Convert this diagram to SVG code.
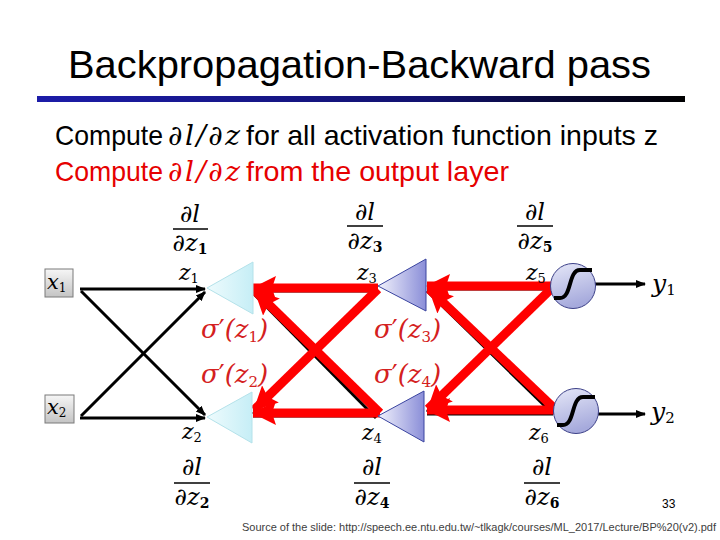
<svg xmlns="http://www.w3.org/2000/svg" width="720" height="540" viewBox="0 0 720 540">
<defs>
<linearGradient id="bar" x1="0" y1="0" x2="1" y2="0"><stop offset="0" stop-color="#1c1ca8"/><stop offset="0.6" stop-color="#121270"/><stop offset="1" stop-color="#000000"/></linearGradient>
<linearGradient id="box" x1="0" y1="0" x2="0" y2="1"><stop offset="0" stop-color="#f6f6f6"/><stop offset="1" stop-color="#c4c4c4"/></linearGradient>
<linearGradient id="cyan" x1="0" y1="0" x2="1" y2="0"><stop offset="0" stop-color="#eefbfd"/><stop offset="1" stop-color="#c6eef6"/></linearGradient>
<linearGradient id="lav" x1="0" y1="0" x2="1" y2="0"><stop offset="0" stop-color="#f2f2fc"/><stop offset="1" stop-color="#8a8ed8"/></linearGradient>
<linearGradient id="circ" x1="0" y1="0" x2="0.3" y2="1"><stop offset="0" stop-color="#e6e8f8"/><stop offset="1" stop-color="#a6aadc"/></linearGradient>
<marker id="ab" viewBox="0 0 10 10" refX="9" refY="5" markerWidth="10" markerHeight="10" markerUnits="userSpaceOnUse" orient="auto"><path d="M0,1 L10,5 L0,9 z" fill="#000"/></marker>
<marker id="ar" viewBox="0 0 24 24" refX="23" refY="12" markerWidth="24" markerHeight="24" markerUnits="userSpaceOnUse" orient="auto"><path d="M0,0 L24,12 L0,24 L4,12 z" fill="#ff0000"/></marker>
<style>
.t{font-family:"Liberation Sans",Arial,sans-serif;}
.m{font-family:"DejaVu Serif","Liberation Serif",serif;font-style:italic;}
.n{font-style:normal;}
.blk{stroke:#000;stroke-width:3;fill:none;marker-end:url(#ab);}
.bu{stroke:#000;stroke-width:3;fill:none;}
.red{stroke:#ff0000;stroke-width:9;fill:none;marker-end:url(#ar);}
.fb{stroke:#000;stroke-width:1.3;}
.sig{fill:#d42020;}
</style>
</defs>
<rect width="720" height="540" fill="#fff"/>
<text class="t" x="68" y="78" font-size="39" textLength="583" lengthAdjust="spacingAndGlyphs">Backpropagation-Backward pass</text>
<rect x="37" y="96" width="648" height="6" fill="url(#bar)"/>
<text class="t" x="55" y="145" font-size="28" textLength="108" lengthAdjust="spacingAndGlyphs">Compute</text>
<text class="m" x="168" y="145" font-size="28" textLength="72">∂l/∂z</text>
<text class="t" x="246" y="145" font-size="28" textLength="412" lengthAdjust="spacingAndGlyphs">for all activation function inputs z</text>
<g fill="#e60000">
<text class="t" x="55" y="181" font-size="28" textLength="108" lengthAdjust="spacingAndGlyphs">Compute</text>
<text class="m" x="168" y="181" font-size="28" textLength="72">∂l/∂z</text>
<text class="t" x="246" y="181" font-size="28" textLength="263" lengthAdjust="spacingAndGlyphs">from the output layer</text>
</g>
<g id="connectors">
<line class="blk" x1="80" y1="289" x2="205" y2="289"/>
<line class="blk" x1="81" y1="291" x2="205" y2="415"/>
<line class="blk" x1="80" y1="418" x2="205" y2="418"/>
<line class="blk" x1="81" y1="416" x2="205" y2="292"/>
<line class="bu" x1="253" y1="291" x2="376" y2="291"/>
<line class="bu" x1="253" y1="293" x2="376" y2="418"/>
<line class="bu" x1="253" y1="416" x2="376" y2="416"/>
<line class="bu" x1="253" y1="414" x2="376" y2="290"/>
<line class="bu" x1="427" y1="289" x2="551" y2="289"/>
<line class="bu" x1="427" y1="291" x2="553" y2="414"/>
<line class="bu" x1="427" y1="414" x2="553" y2="414"/>
<line class="bu" x1="427" y1="412" x2="551" y2="290"/>
<line class="red" x1="378" y1="288" x2="253" y2="288"/>
<line class="red" x1="378" y1="289" x2="254" y2="410"/>
<line class="red" x1="380" y1="413" x2="255" y2="291"/>
<line class="red" x1="380" y1="413" x2="253" y2="413"/>
<line class="red" x1="552" y1="286" x2="427" y2="286"/>
<line class="red" x1="552" y1="288" x2="428" y2="409"/>
<line class="red" x1="555" y1="409" x2="429" y2="289"/>
<line class="red" x1="555" y1="410" x2="427" y2="410"/>
<line class="blk" x1="595" y1="284" x2="645" y2="284"/>
<line class="blk" x1="598" y1="414" x2="645" y2="414"/>
</g>
<g id="x1">
<rect x="45" y="269" width="28" height="28" fill="url(#box)" stroke="#7a7a7a" stroke-width="1"/>
<text class="m" x="47" y="289" font-size="21">x<tspan class="n" font-size="12" dy="3">1</tspan></text>
</g>
<g id="x2">
<rect x="45" y="395" width="29" height="28" fill="url(#box)" stroke="#7a7a7a" stroke-width="1"/>
<text class="m" x="47" y="414" font-size="21">x<tspan class="n" font-size="12" dy="3">2</tspan></text>
</g>
<g id="z1">
<polygon points="207,288 253,262 253,314" fill="url(#cyan)" stroke="#b4e2ea" stroke-width="1"/>
<text class="m" x="179" y="280" font-size="22">z<tspan class="n" font-size="13" dy="3">1</tspan></text>
<text class="m" x="190" y="222" font-size="24" text-anchor="middle">∂l</text>
<line class="fb" x1="173" y1="229" x2="208" y2="229"/>
<text class="m" x="190" y="251" font-size="24" text-anchor="middle">∂z<tspan class="n" font-size="14" font-weight="bold" dy="3">1</tspan></text>
<text class="m sig" x="201" y="338" font-size="26">σ<tspan class="n">′</tspan>(z<tspan class="n" font-size="15" dy="4">1</tspan><tspan dy="-4">)</tspan></text>
</g>
<g id="z2">
<polygon points="207,417 252,392 252,443" fill="url(#cyan)" stroke="#b4e2ea" stroke-width="1"/>
<text class="m" x="182" y="439" font-size="22">z<tspan class="n" font-size="13" dy="3">2</tspan></text>
<text class="m" x="192" y="475" font-size="24" text-anchor="middle">∂l</text>
<line class="fb" x1="174" y1="483" x2="210" y2="483"/>
<text class="m" x="192" y="505" font-size="24" text-anchor="middle">∂z<tspan class="n" font-size="14" font-weight="bold" dy="3">2</tspan></text>
<text class="m sig" x="201" y="383" font-size="26">σ<tspan class="n">′</tspan>(z<tspan class="n" font-size="15" dy="4">2</tspan><tspan dy="-4">)</tspan></text>
</g>
<g id="z3">
<polygon points="378,286 426,259 426,311" fill="url(#lav)" stroke="#3a44a0" stroke-width="1"/>
<text class="m" x="357" y="280" font-size="22">z<tspan class="n" font-size="13" dy="3">3</tspan></text>
<text class="m" x="365" y="220" font-size="24" text-anchor="middle">∂l</text>
<line class="fb" x1="347" y1="226" x2="383" y2="226"/>
<text class="m" x="365" y="249" font-size="24" text-anchor="middle">∂z<tspan class="n" font-size="14" font-weight="bold" dy="3">3</tspan></text>
<text class="m sig" x="374" y="338" font-size="26">σ<tspan class="n">′</tspan>(z<tspan class="n" font-size="15" dy="4">3</tspan><tspan dy="-4">)</tspan></text>
</g>
<g id="z4">
<polygon points="378,416 424,391 424,442" fill="url(#lav)" stroke="#3a44a0" stroke-width="1"/>
<text class="m" x="362" y="440" font-size="22">z<tspan class="n" font-size="13" dy="3">4</tspan></text>
<text class="m" x="372" y="475" font-size="24" text-anchor="middle">∂l</text>
<line class="fb" x1="354" y1="483" x2="390" y2="483"/>
<text class="m" x="372" y="505" font-size="24" text-anchor="middle">∂z<tspan class="n" font-size="14" font-weight="bold" dy="3">4</tspan></text>
<text class="m sig" x="374" y="383" font-size="26">σ<tspan class="n">′</tspan>(z<tspan class="n" font-size="15" dy="4">4</tspan><tspan dy="-4">)</tspan></text>
</g>
<g id="z5">
<circle cx="573" cy="286" r="22.5" fill="url(#circ)" stroke="#3c4088" stroke-width="1"/>
<path d="M554,298 L560,298 C572,298 568,270 580,270 L592,270" fill="none" stroke="#000" stroke-width="4"/>
<text class="m" x="526" y="280" font-size="22">z<tspan class="n" font-size="13" dy="3">5</tspan></text>
<text class="m" x="535" y="220" font-size="24" text-anchor="middle">∂l</text>
<line class="fb" x1="517" y1="226" x2="553" y2="226"/>
<text class="m" x="535" y="249" font-size="24" text-anchor="middle">∂z<tspan class="n" font-size="14" font-weight="bold" dy="3">5</tspan></text>
</g>
<g id="z6">
<circle cx="576" cy="411" r="22.5" fill="url(#circ)" stroke="#3c4088" stroke-width="1"/>
<path d="M557,425 L563,425 C575,425 571,397 583,397 L595,397" fill="none" stroke="#000" stroke-width="4"/>
<text class="m" x="529" y="440" font-size="22">z<tspan class="n" font-size="13" dy="3">6</tspan></text>
<text class="m" x="542" y="475" font-size="24" text-anchor="middle">∂l</text>
<line class="fb" x1="524" y1="483" x2="560" y2="483"/>
<text class="m" x="542" y="505" font-size="24" text-anchor="middle">∂z<tspan class="n" font-size="14" font-weight="bold" dy="3">6</tspan></text>
</g>
<g id="y1"><text class="m" x="652" y="292" font-size="25">y<tspan class="n" font-size="15" dy="3">1</tspan></text></g>
<g id="y2"><text class="m" x="651" y="420" font-size="25">y<tspan class="n" font-size="15" dy="3">2</tspan></text></g>
<text class="t" x="662" y="508" font-size="12">33</text>
<text class="t" x="242" y="531" font-size="11" fill="#404040" textLength="474">Source of the slide: http://speech.ee.ntu.edu.tw/~tlkagk/courses/ML_2017/Lecture/BP%20(v2).pdf</text>
</svg>
